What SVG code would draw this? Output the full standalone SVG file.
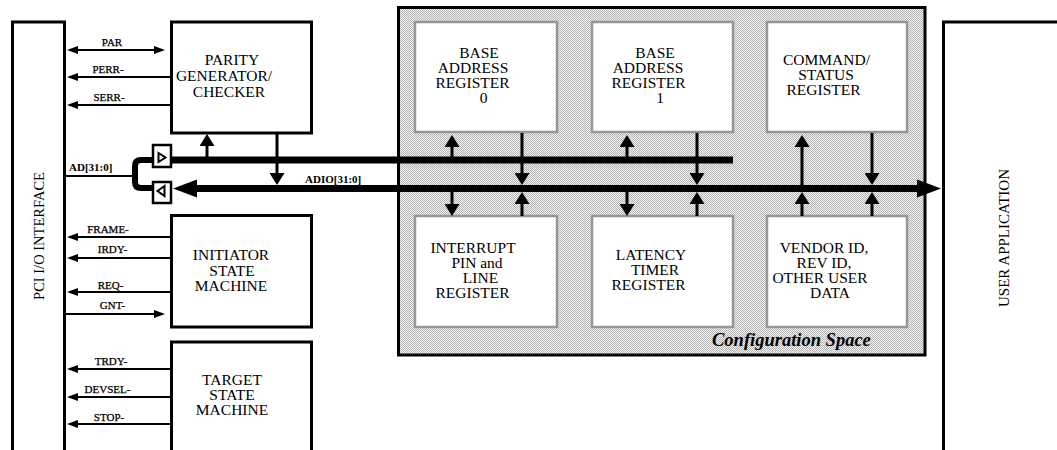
<svg xmlns="http://www.w3.org/2000/svg" width="1057" height="450" viewBox="0 0 1057 450">
<style>
.box{fill:#fff;stroke:#000;stroke-width:3}
.reg{fill:#fff;stroke:#969696;stroke-width:2.5}
.t{font-family:"Liberation Serif","Times New Roman",serif;font-size:15.5px;fill:#000;text-anchor:middle}
.s{font-family:"Liberation Serif","Times New Roman",serif;font-size:11px;fill:#000;text-anchor:middle;stroke:#000;stroke-width:0.25}
.b{font-family:"Liberation Serif","Times New Roman",serif;font-size:11px;font-weight:bold;fill:#000}
.sig{stroke:#000;stroke-width:2;fill:none}
.v{stroke:#000;stroke-width:3;fill:none}
.bus{stroke:#000;stroke-width:7;fill:none}
</style>
<defs>
<pattern id="dots" width="2" height="2" patternUnits="userSpaceOnUse">
<rect width="2" height="2" fill="#f2f2f2"/>
<rect width="1" height="1" fill="#b4b4b4"/>
<rect x="1" y="1" width="1" height="1" fill="#b4b4b4"/>
</pattern>
<marker id="ah" viewBox="0 0 12 15" refX="8" refY="7.5" markerWidth="12" markerHeight="15" markerUnits="userSpaceOnUse" orient="auto"><path d="M0,0 L12,7.5 L0,15 z" fill="#000"/></marker>
<marker id="sh" viewBox="0 0 11 8" refX="8" refY="4" markerWidth="11" markerHeight="8" markerUnits="userSpaceOnUse" orient="auto-start-reverse"><path d="M0,0 L11,4 L0,8 z" fill="#000"/></marker>
</defs>
<rect width="1057" height="450" fill="#fff"/>

<g id="pci-io-interface">
<rect class="box" x="12.5" y="22" width="52" height="450"/>
<text class="t" transform="translate(44,236) rotate(-90)" style="font-size:14.5px">PCI I/O INTERFACE</text>
</g>

<g id="user-application">
<rect class="box" x="943.5" y="22" width="200" height="450"/>
<text class="t" transform="translate(1009,238) rotate(-90)" style="font-size:15px">USER APPLICATION</text>
</g>

<g id="configuration-space">
<rect x="398.5" y="7.5" width="526.5" height="347.5" fill="url(#dots)" stroke="#000" stroke-width="3"/>
<text x="712" y="346" style="font-family:'Liberation Serif','Times New Roman',serif;font-size:18.5px;font-weight:bold;font-style:italic">Configuration Space</text>
</g>

<g id="base-address-register-0">
<rect class="reg" x="415" y="22" width="142" height="110"/>
<text class="t" x="479" y="58">BASE</text>
<text class="t" x="473" y="73">ADDRESS</text>
<text class="t" x="472.5" y="88">REGISTER</text>
<text class="t" x="483.5" y="103">0</text>
</g>
<g id="base-address-register-1">
<rect class="reg" x="592" y="22" width="141" height="110"/>
<text class="t" x="655" y="58">BASE</text>
<text class="t" x="648" y="73">ADDRESS</text>
<text class="t" x="648.5" y="88">REGISTER</text>
<text class="t" x="660" y="103">1</text>
</g>
<g id="command-status-register">
<rect class="reg" x="767" y="22" width="140" height="110"/>
<text class="t" x="826.5" y="65">COMMAND/</text>
<text class="t" x="826" y="80">STATUS</text>
<text class="t" x="823.5" y="95">REGISTER</text>
</g>
<g id="interrupt-pin-line-register">
<rect class="reg" x="415" y="216" width="142" height="111"/>
<text class="t" x="473" y="253">INTERRUPT</text>
<text class="t" x="477" y="268">PIN and</text>
<text class="t" x="480.5" y="283">LINE</text>
<text class="t" x="472.5" y="298">REGISTER</text>
</g>
<g id="latency-timer-register">
<rect class="reg" x="592" y="216" width="141" height="111"/>
<text class="t" x="651" y="260">LATENCY</text>
<text class="t" x="655" y="275">TIMER</text>
<text class="t" x="648.5" y="290">REGISTER</text>
</g>
<g id="vendor-id-register">
<rect class="reg" x="767" y="216" width="140" height="111"/>
<text class="t" x="824" y="253">VENDOR ID,</text>
<text class="t" x="824" y="268">REV ID,</text>
<text class="t" x="820" y="283">OTHER USER</text>
<text class="t" x="830" y="298">DATA</text>
</g>

<g id="parity-generator-checker">
<rect class="box" x="171.5" y="22" width="140" height="111"/>
<text class="t" x="232" y="65">PARITY</text>
<text class="t" x="224" y="81">GENERATOR/</text>
<text class="t" x="229" y="97">CHECKER</text>
</g>
<g id="initiator-state-machine">
<rect class="box" x="171.5" y="215.5" width="140" height="111.5"/>
<text class="t" x="231" y="260">INITIATOR</text>
<text class="t" x="232" y="276">STATE</text>
<text class="t" x="231" y="291">MACHINE</text>
</g>
<g id="target-state-machine">
<rect class="box" x="171.5" y="342" width="140" height="130"/>
<text class="t" x="232" y="385">TARGET</text>
<text class="t" x="232" y="400">STATE</text>
<text class="t" x="232" y="415">MACHINE</text>
</g>

<g id="buffer-in">
<rect x="153" y="145" width="18" height="22" fill="#fff" stroke="#000" stroke-width="2.5"/>
<polygon points="158.5,153 165.5,157.5 158.5,162" fill="none" stroke="#000" stroke-width="2"/>
</g>
<g id="buffer-out">
<rect x="153" y="182" width="18" height="21" fill="#fff" stroke="#000" stroke-width="2.5"/>
<polygon points="164.5,186 157.5,191 164.5,196" fill="none" stroke="#000" stroke-width="2"/>
</g>

<g id="connectors">
<path class="sig" d="M70,50 H162" marker-start="url(#sh)" marker-end="url(#sh)"/>
<path class="sig" d="M170,77 H70" marker-end="url(#sh)"/>
<path class="sig" d="M170,105 H70" marker-end="url(#sh)"/>
<path class="sig" d="M170,237 H70" marker-end="url(#sh)"/>
<path class="sig" d="M170,258 H70" marker-end="url(#sh)"/>
<path class="sig" d="M170,292 H70" marker-end="url(#sh)"/>
<path class="sig" d="M66,314 H162" marker-end="url(#sh)"/>
<path class="sig" d="M170,369 H70" marker-end="url(#sh)"/>
<path class="sig" d="M170,397 H70" marker-end="url(#sh)"/>
<path class="sig" d="M170,424 H70" marker-end="url(#sh)"/>

<path class="sig" d="M66,176 H135"/>
<path d="M153,160 H141 Q135,160 135,166 V182 Q135,188 141,188 H153" fill="none" stroke="#000" stroke-width="6"/>
<path class="bus" d="M171,160 H733"/>
<path class="bus" d="M196,188.5 H918"/>
<polygon points="173,188.5 197,179.5 197,197.5" fill="#000"/>
<polygon points="941,188.5 917,179.5 917,197.5" fill="#000"/>

<path class="v" d="M207,157 V138" marker-end="url(#ah)"/>
<path class="v" d="M277,134 V181" marker-end="url(#ah)"/>

<path class="v" d="M452,157 V139" marker-end="url(#ah)"/>
<path class="v" d="M452,192 V212" marker-end="url(#ah)"/>
<path class="v" d="M522,133 V181" marker-end="url(#ah)"/>
<path class="v" d="M522,216 V196" marker-end="url(#ah)"/>

<path class="v" d="M627,157 V139" marker-end="url(#ah)"/>
<path class="v" d="M627,192 V212" marker-end="url(#ah)"/>
<path class="v" d="M697,133 V181" marker-end="url(#ah)"/>
<path class="v" d="M697,216 V196" marker-end="url(#ah)"/>

<path class="v" d="M802,185 V139" marker-end="url(#ah)"/>
<path class="v" d="M802,216 V196" marker-end="url(#ah)"/>
<path class="v" d="M872,133 V181" marker-end="url(#ah)"/>
<path class="v" d="M872,216 V196" marker-end="url(#ah)"/>
</g>

<g id="labels">
<text class="s" x="112" y="46">PAR</text>
<text class="s" x="108" y="73">PERR-</text>
<text class="s" x="109" y="101">SERR-</text>
<text class="s" x="108" y="233">FRAME-</text>
<text class="s" x="112.5" y="253">IRDY-</text>
<text class="s" x="110.5" y="289">REQ-</text>
<text class="s" x="112.5" y="309">GNT-</text>
<text class="s" x="111" y="365">TRDY-</text>
<text class="s" x="107.5" y="393">DEVSEL-</text>
<text class="s" x="109" y="421">STOP-</text>
<text class="b" x="69" y="171">AD[31:0]</text>
<text class="b" x="305" y="183">ADIO[31:0]</text>
</g>
</svg>
